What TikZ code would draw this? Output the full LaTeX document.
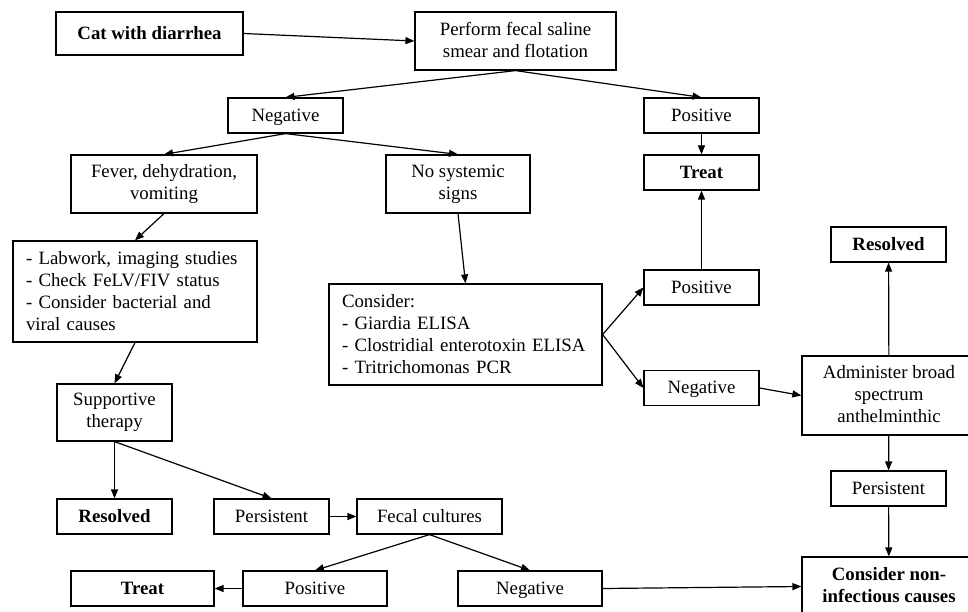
\documentclass[tikz,border=0pt]{standalone}
\usepackage{fontspec}
\setmainfont{Liberation Serif}
\usepackage{tikz}
\usetikzlibrary{arrows.meta, positioning}
\newcommand{\boxstrut}{\rule[-3pt]{0pt}{18.4pt}}
\tikzset{
  >={Triangle[length=9pt,width=7pt]},
  font=\fontsize{18.8}{22}\selectfont,
  box/.style={
    draw, line width=1.2pt, align=center, inner sep=0pt,
    minimum width=115pt, minimum height=35pt,
    execute at begin node=\boxstrut, execute at end node=\boxstrut
  },
  listbox/.style={
    draw, line width=1.2pt, align=left, inner xsep=13pt, inner ysep=0pt,
    text width=#1, minimum height=101pt,
    execute at begin node=\boxstrut, execute at end node=\boxstrut
  },
  arr/.style={->, line width=1.2pt}
}
\begin{document}
\begin{tikzpicture}[x=1pt, y=-1pt]
  \useasboundingbox (0,0) rectangle (968,612);
  \node[box,minimum width=187pt,minimum height=43pt] (cat) at (149.5,33.5) {\textbf{Cat with diarrhea}};
  \node[box,minimum width=201pt,minimum height=58pt] (perf) at (515.5,41) {Perform fecal saline\\smear and flotation};
  \node[box] (neg1) at (285.5,115.5) {Negative};
  \node[box] (pos1) at (701.5,115.5) {Positive};
  \node[box] (treat1) at (701.5,172.5) {\textbf{Treat}};
  \node[box,minimum width=186pt,minimum height=58pt] (fever) at (164,184) {Fever, dehydration,\\vomiting};
  \node[box,minimum width=144pt,minimum height=58pt] (nosys) at (458,184) {No systemic\\signs};
  \node[listbox=218pt] (lab) at (135,291.5) {- Labwork, imaging studies\\- Check FeLV/FIV status\\- Consider bacterial and\\viral causes};
  \node[listbox=247pt] (cons) at (465.5,334.5) {Consider:\\- Giardia ELISA\\- Clostridial enterotoxin ELISA\\- Tritrichomonas PCR};
  \node[box] (pos2) at (701.5,287.5) {Positive};
  \node[box] (neg2) at (701.5,388) {Negative};
  \node[box] (res2) at (888.5,244.5) {\textbf{Resolved}};
  \node[box,minimum width=174pt,minimum height=79pt] (adm) at (889,395.5) {Administer broad\\spectrum\\anthelminthic};
  \node[box] (pers2) at (888.5,488.5) {Persistent};
  \node[box,minimum width=174pt,minimum height=59pt] (nonin) at (889,586.5) {\textbf{Consider non-}\\\textbf{infectious causes}};
  \node[box,minimum height=57pt] (sup) at (114.5,412.5) {Supportive\\therapy};
  \node[box] (res1) at (114.5,516.5) {\textbf{Resolved}};
  \node[box] (pers1) at (271.5,516.5) {Persistent};
  \node[box,minimum width=145pt] (fecal) at (429.5,516.5) {Fecal cultures};
  \node[box,minimum width=143pt] (treat3) at (142.5,588.5) {\textbf{Treat}};
  \node[box,minimum width=144pt] (pos3) at (315,588.5) {Positive};
  \node[box,minimum width=144pt] (neg3) at (530,588.5) {Negative};

  \draw[arr] (cat.east) -- (perf.west);
  \draw[arr] (perf.south) -- (neg1.north);
  \draw[arr] (perf.south) -- (pos1.north);
  \draw[arr] (pos1) -- (treat1);
  \draw[arr] (neg1.south) -- (fever.north);
  \draw[arr] (neg1.south) -- (nosys.north);
  \draw[arr] (fever.south) -- (lab.north);
  \draw[arr] (nosys.south) -- (cons.north);
  \draw[arr] (lab.south) -- (sup.north);
  \draw[arr] (cons.east) -- (pos2.west);
  \draw[arr] (cons.east) -- (neg2.west);
  \draw[arr] (pos2) -- (treat1);
  \draw[arr] (neg2.east) -- (adm.west);
  \draw[arr] (adm) -- (res2);
  \draw[arr] (adm) -- (pers2);
  \draw[arr] (pers2) -- (nonin);
  \draw[arr] (sup.south) -- (res1.north);
  \draw[arr] (sup.south) -- (pers1.north);
  \draw[arr] (pers1) -- (fecal);
  \draw[arr] (fecal.south) -- (pos3.north);
  \draw[arr] (fecal.south) -- (neg3.north);
  \draw[arr] (pos3) -- (treat3);
  \draw[arr] (neg3.east) -- (nonin.west);
\end{tikzpicture}
\end{document}
